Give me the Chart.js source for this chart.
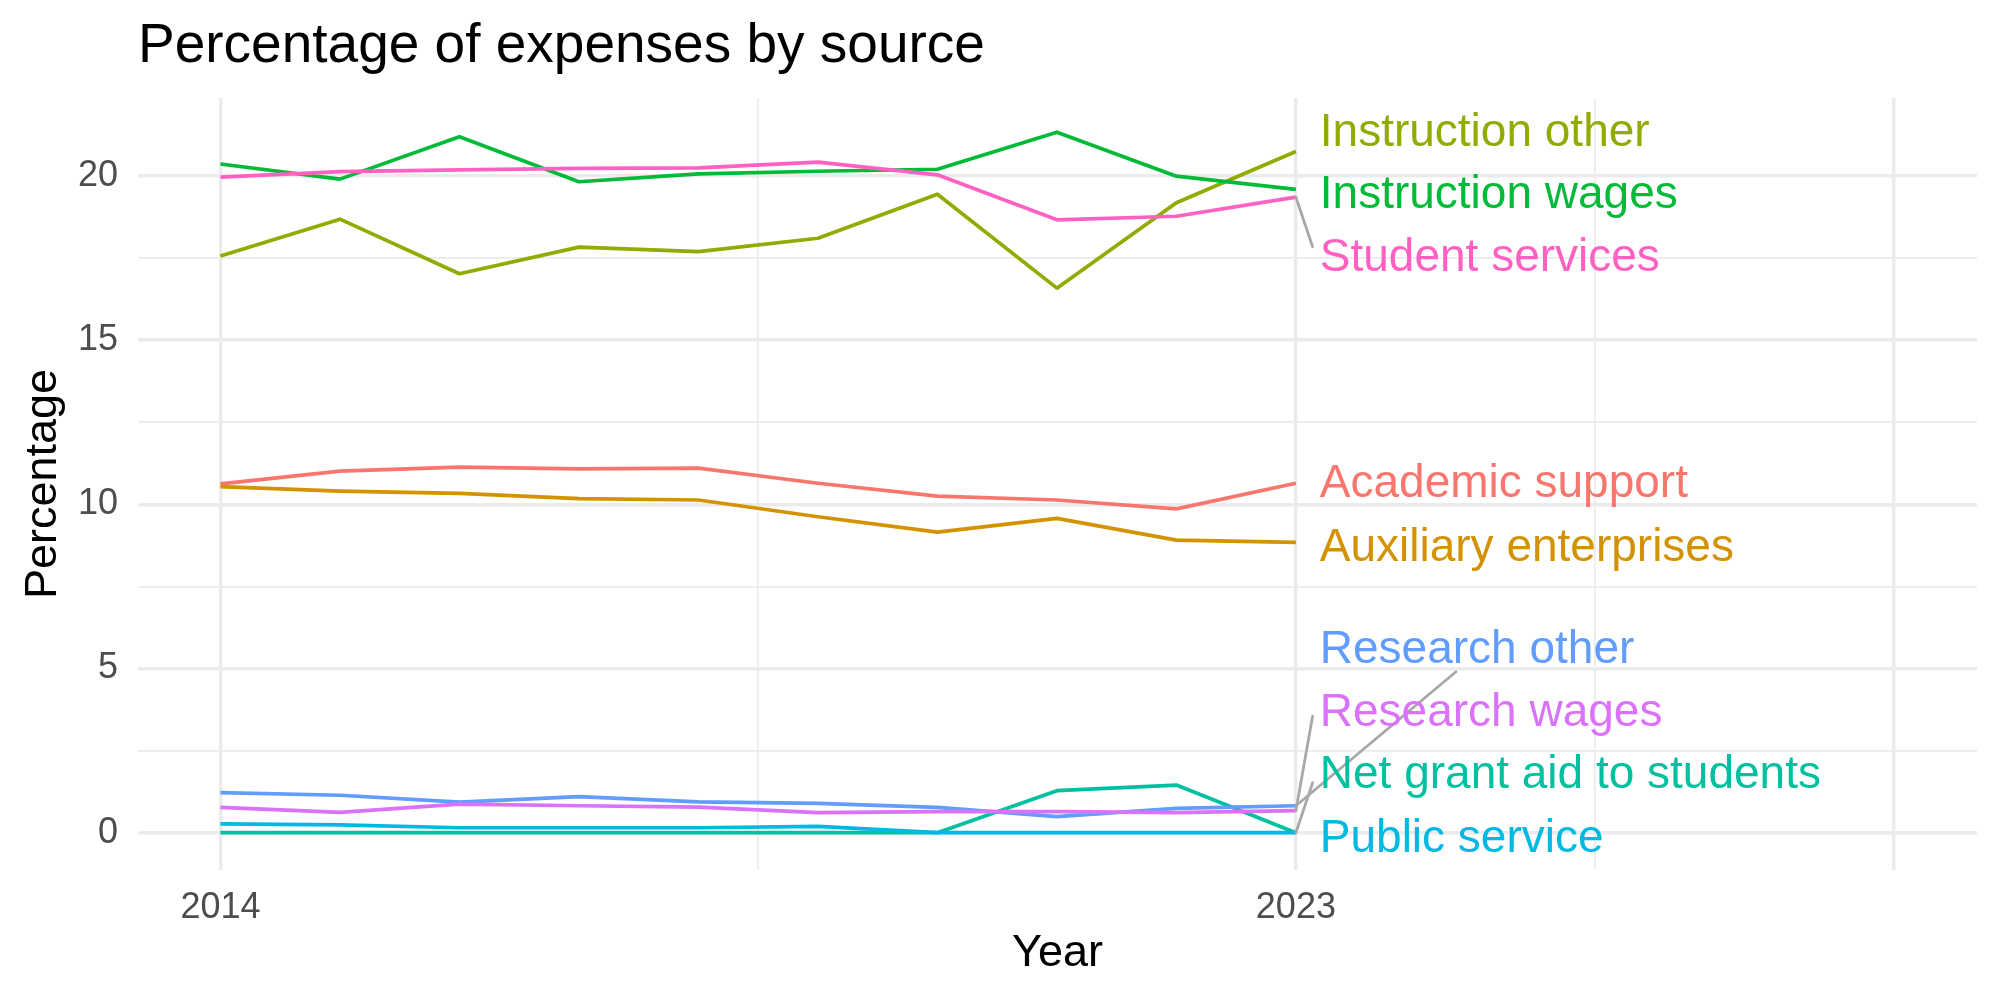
<!DOCTYPE html>
<html>
<head>
<meta charset="utf-8">
<script src="https://cdn.jsdelivr.net/npm/chart.js@4"></script>
<style>
  body { margin: 0; background: #fff; }
  canvas { display: block; }
</style>
</head>
<body>
<canvas id="chart" width="2000" height="1000"></canvas>
<script>
const years = [2014, 2015, 2016, 2017, 2018, 2019, 2020, 2021, 2022, 2023];

const sources = [
  'Academic support', 'Auxiliary enterprises', 'Instruction other', 'Instruction wages',
  'Net grant aid to students', 'Public service', 'Research other', 'Research wages', 'Student services'
];

const academicSupport      = [10.62, 11.01, 11.13, 11.08, 11.10, 10.64, 10.25, 10.13, 9.86, 10.64];
const auxiliaryEnterprises = [10.54, 10.40, 10.33, 10.17, 10.13, 9.62, 9.15, 9.57, 8.91, 8.84];
const instructionOther     = [17.56, 18.68, 17.02, 17.83, 17.69, 18.10, 19.44, 16.58, 19.18, 20.74];
const instructionWages     = [20.36, 19.90, 21.19, 19.82, 20.06, 20.14, 20.20, 21.33, 19.99, 19.59];
const netGrantAid          = [0, 0, 0, 0, 0, 0, 0, 1.28, 1.45, 0];
const publicService        = [0.27, 0.24, 0.15, 0.15, 0.15, 0.19, 0, 0, 0, 0];
const researchOther        = [1.22, 1.14, 0.93, 1.10, 0.94, 0.89, 0.77, 0.49, 0.74, 0.82];
const researchWages        = [0.77, 0.62, 0.87, 0.82, 0.78, 0.61, 0.64, 0.64, 0.61, 0.67];
const studentServices      = [19.96, 20.13, 20.18, 20.23, 20.24, 20.42, 20.03, 18.66, 18.77, 19.35];

const xTicks = [2014, 2018.5, 2023, 2025.5, 2028];
const xLabelled = [2014, 2023];
const yTicks = [0, 2.5, 5, 7.5, 10, 12.5, 15, 17.5, 20];

const series = [academicSupport, auxiliaryEnterprises, instructionOther, instructionWages,
  netGrantAid, publicService, researchOther, researchWages, studentServices];
const colors = ['#F8766D', '#D39200', '#93AA00', '#00BA38', '#00C19F', '#00B9E3', '#619CFF', '#DB72FB', '#FF61C3'];

// where the repelled labels sit (data units), and which ones get a leader segment
const labelX = 2023.2;
const labelY = [10.61, 8.65, 21.30, 19.40, 1.74, -0.20, 5.56, 3.64, 17.50];
const segments = [
  { i: 8, to: [2023.14, 17.84] },
  { i: 6, to: [2024.34, 4.90] },
  { i: 7, to: [2023.14, 3.55] },
  { i: 4, to: [2023.14, 1.52] }
];

const FONT = '"Liberation Sans", Arial, sans-serif';

const repelLabels = {
  id: 'repelLabels',
  afterDatasetsDraw(chart) {
    const { ctx, scales: { x, y } } = chart;
    ctx.save();
    ctx.strokeStyle = '#A8A8A8';
    ctx.lineWidth = 2.8;
    ctx.lineCap = 'round';
    segments.forEach(s => {
      const data = series[s.i];
      ctx.beginPath();
      ctx.moveTo(x.getPixelForValue(years[years.length - 1]), y.getPixelForValue(data[data.length - 1]));
      ctx.lineTo(x.getPixelForValue(s.to[0]), y.getPixelForValue(s.to[1]));
      ctx.stroke();
    });
    ctx.font = '46px ' + FONT;
    ctx.textAlign = 'left';
    ctx.textBaseline = 'middle';
    sources.forEach((name, i) => {
      ctx.fillStyle = colors[i];
      ctx.fillText(name, x.getPixelForValue(labelX), y.getPixelForValue(labelY[i]));
    });
    ctx.restore();
  }
};

new Chart(document.getElementById('chart'), {
  type: 'line',
  data: {
    datasets: sources.map((name, i) => ({
      label: name,
      data: years.map((yr, k) => ({ x: yr, y: series[i][k] })),
      borderColor: colors[i],
      backgroundColor: colors[i],
      borderWidth: 3.7,
      borderJoinStyle: 'round',
      pointRadius: 0,
      tension: 0,
      order: sources.length - i
    }))
  },
  options: {
    responsive: false,
    animation: false,
    devicePixelRatio: 1,
    layout: { padding: { top: 0, right: 23, bottom: 0, left: 0 } },
    plugins: {
      legend: { display: false },
      tooltip: { enabled: false },
      title: {
        display: true,
        text: 'Percentage of expenses by source',
        align: 'start',
        fullSize: false,
        color: '#000',
        font: { family: FONT, size: 55, weight: 'normal', lineHeight: 1 },
        padding: { top: 19.5, bottom: 23.5 }
      }
    },
    scales: {
      x: {
        type: 'linear',
        min: 2013.31,
        max: 2028.7,
        afterBuildTicks: s => { s.ticks = xTicks.map(v => ({ value: v })); },
        afterFit: s => { s.height = 130; },
        border: { display: false },
        grid: {
          color: '#EBEBEB',
          drawTicks: false,
          lineWidth: c => (c.tick && c.tick.value % 1 === 0 ? 3.4 : 1.7)
        },
        ticks: {
          padding: 16,
          maxRotation: 0,
          autoSkip: false,
          color: '#4D4D4D',
          font: { family: FONT, size: 36 },
          callback: v => (xLabelled.includes(v) ? String(v) : '')
        },
        title: {
          display: true,
          text: 'Year',
          color: '#000',
          font: { family: FONT, size: 45, lineHeight: 1 },
          padding: { top: 0, bottom: 23.5 }
        }
      },
      y: {
        type: 'linear',
        min: -1.136,
        max: 22.37,
        afterBuildTicks: s => { s.ticks = yTicks.map(v => ({ value: v })); },
        afterFit: s => { s.width = 138; },
        border: { display: false },
        grid: {
          color: '#EBEBEB',
          drawTicks: false,
          lineWidth: c => (c.tick && c.tick.value % 5 === 0 ? 3.4 : 1.7)
        },
        ticks: {
          padding: 20,
          color: '#4D4D4D',
          font: { family: FONT, size: 36 },
          callback: v => (v % 5 === 0 ? String(v) : '')
        },
        title: {
          display: true,
          text: 'Percentage',
          color: '#000',
          font: { family: FONT, size: 45, lineHeight: 1 },
          padding: { top: 21, bottom: 0 }
        }
      }
    }
  },
  plugins: [repelLabels]
});
</script>
</body>
</html>
